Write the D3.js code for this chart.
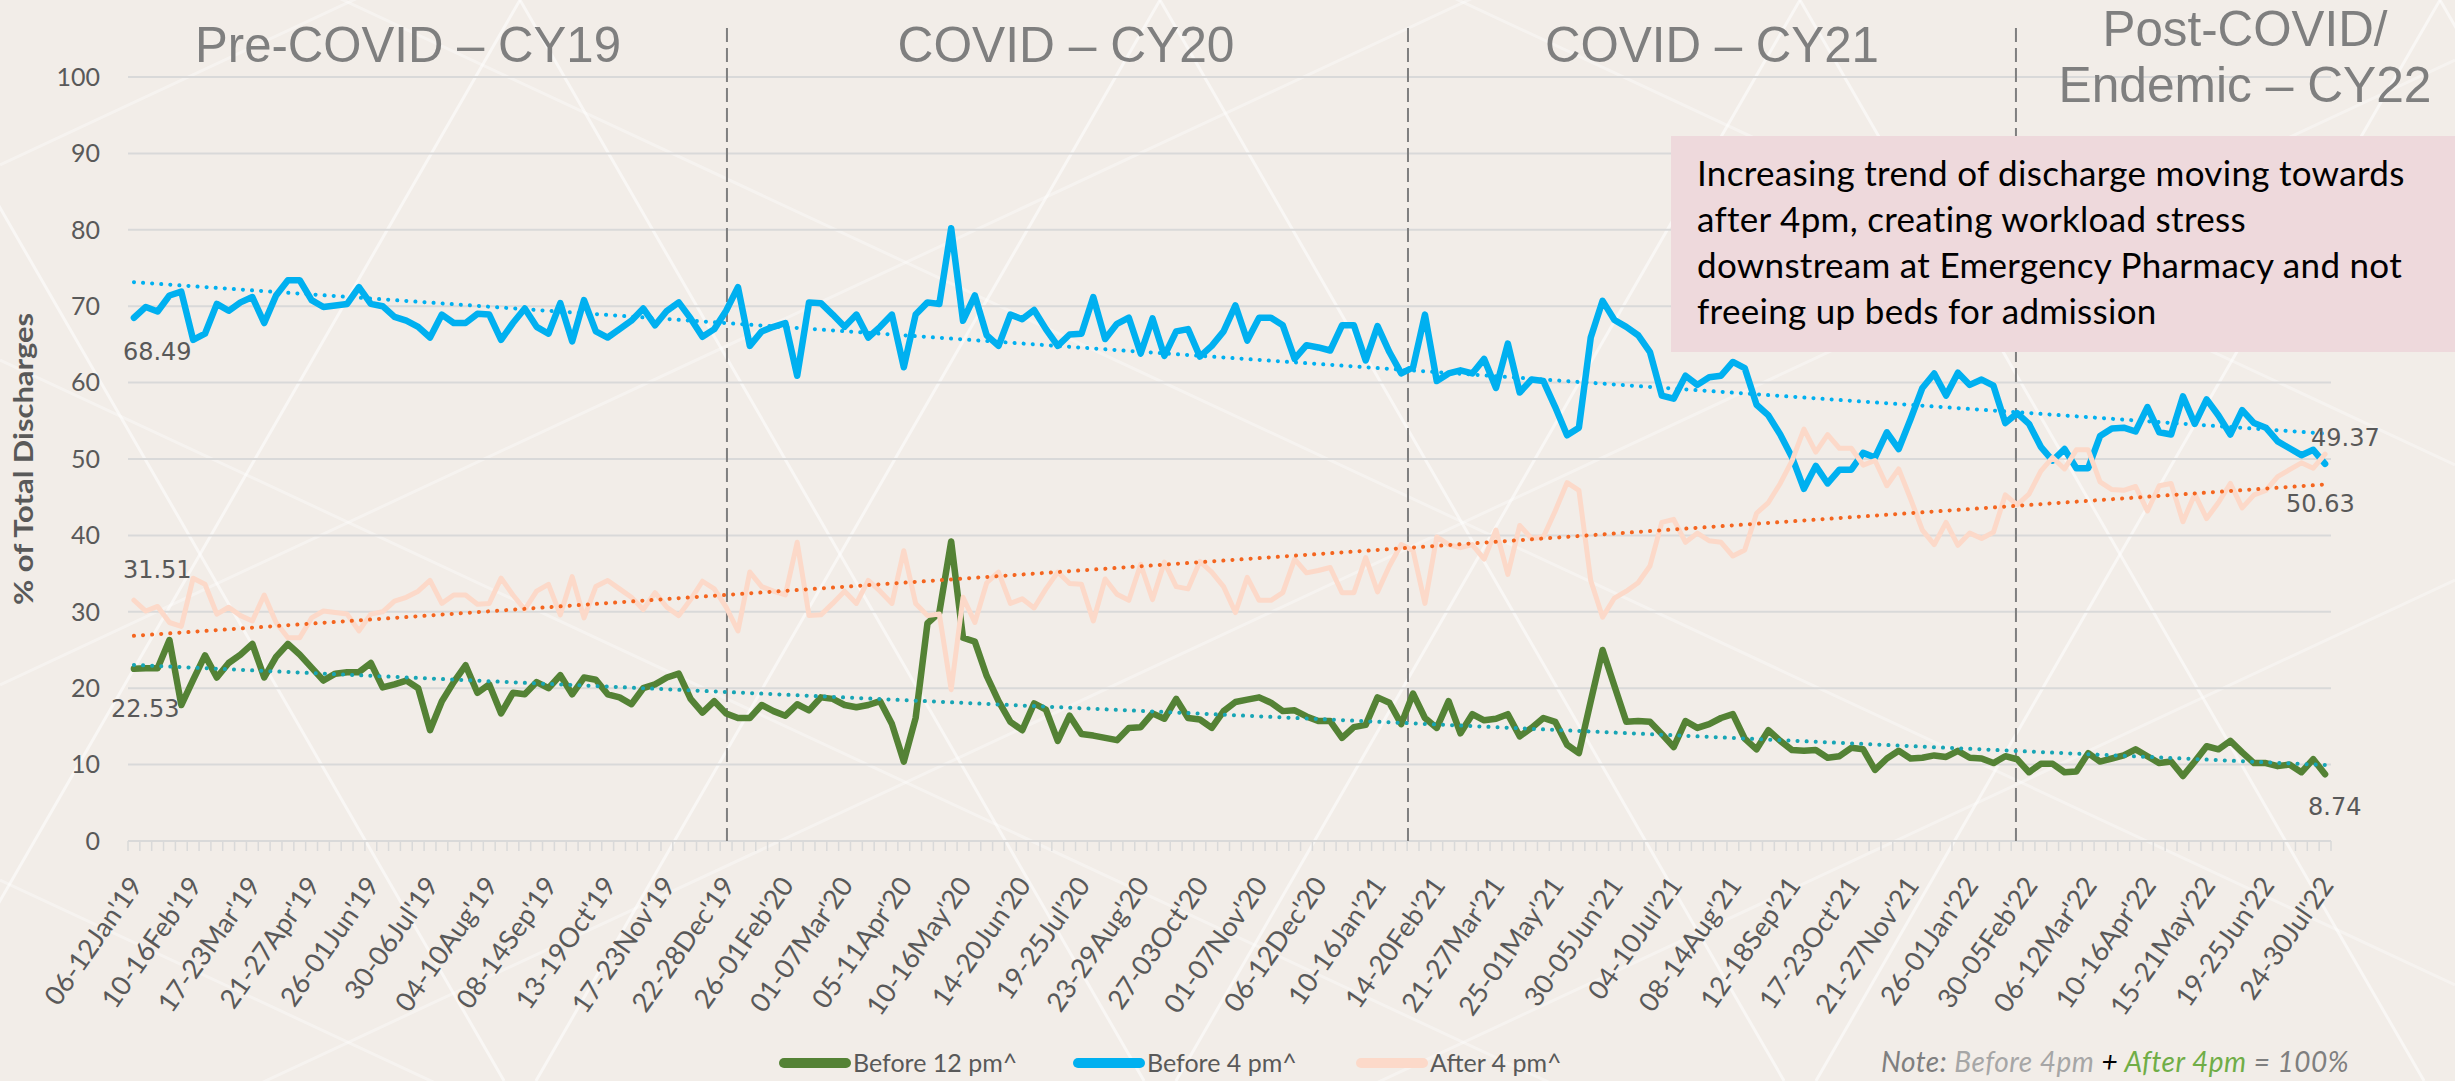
<!DOCTYPE html>
<html>
<head>
<meta charset="utf-8">
<script src="https://cdn.jsdelivr.net/npm/d3@7"></script>
<style>
  html, body { margin: 0; padding: 0; background: #f2ede8; }
  svg { display: block; }
</style>
</head>
<body>
<svg id="chart"></svg>
<script>
// weekly share of discharges (%), 06-12Jan'19 .. 24-30Jul'22
const before12 = [22.53,22.6,22.6,26.3,17.8,21.1,24.3,21.4,23.3,24.4,25.8,21.4,24.1,25.8,24.4,22.7,21.0,21.9,22.1,22.1,
  23.3,20.1,20.5,21.0,20.0,14.5,18.3,20.8,23.0,19.4,20.5,16.7,19.4,19.2,20.8,20.0,21.7,19.2,21.4,21.1,
  19.2,18.8,17.9,20.0,20.5,21.4,21.9,18.6,16.8,18.3,16.7,16.1,16.1,17.8,17.0,16.4,17.9,17.1,18.8,18.6,
  17.8,17.5,17.8,18.3,15.3,10.4,16.1,28.5,29.9,39.2,26.6,26.1,21.6,18.3,15.6,14.5,18.0,17.2,13.1,16.4,
  14.0,13.8,13.5,13.2,14.8,14.9,16.7,16.0,18.6,16.1,15.9,14.8,17.0,18.2,18.5,18.8,18.1,17.0,17.1,16.3,
  15.7,15.7,13.5,14.9,15.2,18.8,18.1,15.3,19.3,16.1,14.8,18.3,14.1,16.6,15.8,16.0,16.6,13.7,14.8,16.1,
  15.6,12.6,11.5,18.3,25.0,20.3,15.6,15.7,15.6,14.0,12.3,15.7,14.8,15.3,16.1,16.6,13.4,12.0,14.5,13.1,
  11.9,11.8,11.9,10.9,11.1,12.2,12.0,9.3,10.8,11.8,10.8,10.9,11.2,11.0,11.8,10.9,10.8,10.2,11.1,10.7,
  9.0,10.1,10.1,9.0,9.1,11.5,10.4,10.8,11.2,12.0,11.1,10.2,10.4,8.5,10.4,12.4,12.0,13.1,11.6,10.2,
  10.2,9.8,10.0,9.0,10.7,8.74];

const before4 = [68.49,69.9,69.3,71.4,71.9,65.6,66.4,70.3,69.4,70.5,71.2,67.8,71.4,73.4,73.4,70.8,69.9,70.1,70.3,72.5,
  70.3,70.0,68.6,68.1,67.3,65.9,68.9,67.8,67.8,69.0,68.9,65.6,67.8,69.7,67.3,66.4,70.4,65.4,70.8,66.7,
  65.9,67.0,68.1,69.7,67.5,69.4,70.5,68.4,66.0,67.0,69.4,72.5,64.8,66.7,67.3,67.8,60.9,70.5,70.4,68.9,
  67.3,68.9,65.9,67.3,68.9,62.0,68.9,70.5,70.3,80.2,68.1,71.4,66.2,64.8,68.9,68.3,69.5,67.0,64.8,66.3,
  66.4,71.2,65.7,67.7,68.5,63.8,68.4,63.5,66.7,67.0,63.4,64.8,66.7,70.1,65.5,68.5,68.5,67.5,63.1,64.9,
  64.6,64.2,67.5,67.5,62.9,67.4,64.0,61.2,62.0,68.9,60.2,61.2,61.6,61.2,63.1,59.3,65.1,58.7,60.4,60.2,
  56.8,53.1,54.1,65.9,70.7,68.2,67.3,66.2,64.0,58.3,57.9,60.9,59.7,60.7,60.9,62.7,61.9,57.1,55.7,53.2,
  50.2,46.1,49.1,46.8,48.6,48.6,50.8,50.2,53.5,51.3,55.2,59.3,61.2,58.3,61.3,59.7,60.4,59.6,54.7,56.0,
  54.6,51.6,49.8,51.3,48.8,48.8,53.0,54.0,54.1,53.6,56.8,53.5,53.2,58.2,54.6,57.8,55.7,53.2,56.4,54.7,
  54.1,52.3,51.4,50.5,51.2,49.37];

const after4 = [31.51,30.1,30.7,28.6,28.1,34.4,33.6,29.7,30.6,29.5,28.8,32.2,28.6,26.6,26.6,29.2,30.1,29.9,29.7,27.5,
  29.7,30.0,31.4,31.9,32.7,34.1,31.1,32.2,32.2,31.0,31.1,34.4,32.2,30.3,32.7,33.6,29.6,34.6,29.2,33.3,
  34.1,33.0,31.9,30.3,32.5,30.6,29.5,31.6,34.0,33.0,30.6,27.5,35.2,33.3,32.7,32.2,39.1,29.5,29.6,31.1,
  32.7,31.1,34.1,32.7,31.1,38.0,31.1,29.5,29.7,19.8,31.9,28.6,33.8,35.2,31.1,31.7,30.5,33.0,35.2,33.7,
  33.6,28.8,34.3,32.3,31.5,36.2,31.6,36.5,33.3,33.0,36.6,35.2,33.3,29.9,34.5,31.5,31.5,32.5,36.9,35.1,
  35.4,35.8,32.5,32.5,37.1,32.6,36.0,38.8,38.0,31.1,39.8,38.8,38.4,38.8,36.9,40.7,34.9,41.3,39.6,39.8,
  43.2,46.9,45.9,34.1,29.3,31.8,32.7,33.8,36.0,41.7,42.1,39.1,40.3,39.3,39.1,37.3,38.1,42.9,44.3,46.8,
  49.8,53.9,50.9,53.2,51.4,51.4,49.2,49.8,46.5,48.7,44.8,40.7,38.8,41.7,38.7,40.3,39.6,40.4,45.3,44.0,
  45.4,48.4,50.2,48.7,51.2,51.2,47.0,46.0,45.9,46.4,43.2,46.5,46.8,41.8,45.4,42.2,44.3,46.8,43.6,45.3,
  45.9,47.7,48.6,49.5,48.8,50.63];

// one label every 5 weeks
const tickLabels = ["06-12Jan'19","10-16Feb'19","17-23Mar'19","21-27Apr'19","26-01Jun'19","30-06Jul'19",
  "04-10Aug'19","08-14Sep'19","13-19Oct'19","17-23Nov'19","22-28Dec'19","26-01Feb'20","01-07Mar'20",
  "05-11Apr'20","10-16May'20","14-20Jun'20","19-25Jul'20","23-29Aug'20","27-03Oct'20","01-07Nov'20",
  "06-12Dec'20","10-16Jan'21","14-20Feb'21","21-27Mar'21","25-01May'21","30-05Jun'21","04-10Jul'21",
  "08-14Aug'21","12-18Sep'21","17-23Oct'21","21-27Nov'21","26-01Jan'22","30-05Feb'22","06-12Mar'22",
  "10-16Apr'22","15-21May'22","19-25Jun'22","24-30Jul'22"];

const periodNames = [["Pre-COVID \u2013 CY19"], ["COVID \u2013 CY20"], ["COVID \u2013 CY21"], ["Post-COVID/", "Endemic \u2013 CY22"]];
const seriesNames = ["Before 12 pm^", "Before 4 pm^", "After 4 pm^"];
const noteText = "Increasing trend of discharge moving towards|after 4pm, creating workload stress|downstream at Emergency Pharmacy and not|freeing up beds for admission".split("|");

const W = 2455, H = 1081;
const plot = {left: 128, right: 2331, top: 77, bottom: 841};
const calibri = "Lato, 'Open Sans', sans-serif";
const grey = "#595959";
const colors = {g: "#548235", b: "#00b0f0", p: "#fcd9c9", gt: "#17a5b5", bt: "#00b0f0", pt: "#f4651f"};

const svg = d3.select("#chart").attr("width", W).attr("height", H);

svg.append("rect").attr("width", W).attr("height", H).attr("fill", "#f2ede8");

// faint geometric backdrop
const deco = svg.append("g").attr("stroke", "#ffffff").attr("stroke-opacity", 0.55).attr("stroke-width", 3).attr("fill", "none");
const slope60 = Math.tan(Math.PI / 3), slope25 = Math.tan(25 * Math.PI / 180);
for (let x0 = -1400; x0 < W + 1400; x0 += 640) {
  deco.append("line").attr("x1", x0).attr("y1", 0).attr("x2", x0 + H / slope60).attr("y2", H);
  deco.append("line").attr("x1", x0).attr("y1", 0).attr("x2", x0 - H / slope60).attr("y2", H);
}
for (let y0 = -1200; y0 < H + 1200; y0 += 520) {
  deco.append("line").attr("x1", 0).attr("y1", y0).attr("x2", W).attr("y2", y0 + W * slope25).attr("stroke-opacity", 0.35);
  deco.append("line").attr("x1", 0).attr("y1", y0 + W * slope25 - 300).attr("x2", W).attr("y2", y0 - 300).attr("stroke-opacity", 0.35);
}

const weeks = d3.range(before4.length);
const x = d3.scaleBand().domain(weeks).range([plot.left, plot.right]);
const cx = i => x(i) + x.bandwidth() / 2;
const y = d3.scaleLinear().domain([0, 100]).range([plot.bottom, plot.top]);

// grid
svg.append("g").selectAll("line").data(y.ticks(10)).join("line")
  .attr("x1", plot.left).attr("x2", plot.right)
  .attr("y1", d => y(d)).attr("y2", d => y(d))
  .attr("stroke", "#d9d9d9").attr("stroke-width", 2);

// minor category ticks
svg.append("g").selectAll("line").data(d3.range(weeks.length + 1)).join("line")
  .attr("x1", d => plot.left + d * x.step()).attr("x2", d => plot.left + d * x.step())
  .attr("y1", plot.bottom).attr("y2", plot.bottom + 10)
  .attr("stroke", "#d9d9d9").attr("stroke-width", 1.5);

svg.append("g").selectAll("text").data(y.ticks(10)).join("text")
  .attr("x", 100).attr("y", d => y(d)).attr("dy", "0.35em")
  .attr("text-anchor", "end")
  .style("font-family", calibri).style("font-size", "25px").attr("fill", grey)
  .text(d => d);

svg.append("text")
  .attr("transform", "translate(33,459) rotate(-90)")
  .attr("text-anchor", "middle")
  .style("font-family", calibri).style("font-size", "26px").style("font-weight", "bold")
  .attr("fill", grey)
  .attr("textLength", 292).attr("lengthAdjust", "spacingAndGlyphs")
  .text("% of Total Discharges");

svg.append("g").selectAll("text").data(tickLabels).join("text")
  .attr("transform", (d, i) => `translate(${cx(i * 5) + 2},880) rotate(-55)`)
  .attr("text-anchor", "end").attr("dy", "0.35em")
  .style("font-family", calibri).style("font-size", "27px").attr("fill", grey)
  .text(d => d);

// period separators (placed by hand on the slide)
const dividerWeeks = [50.57, 108.07, 159.4];
svg.append("g").selectAll("line").data(dividerWeeks).join("line")
  .attr("x1", d => plot.left + d * x.step()).attr("x2", d => plot.left + d * x.step())
  .attr("y1", 28).attr("y2", plot.bottom)
  .attr("stroke", "#7f7f7f").attr("stroke-width", 2).attr("stroke-dasharray", "14 6");

// series
const line = d3.line().x((d, i) => cx(i)).y(d => y(d));
const series = [
  {vals: before12, color: colors.g, width: 6.5, trend: colors.gt},
  {vals: before4, color: colors.b, width: 6.5, trend: colors.bt},
  {vals: after4, color: colors.p, width: 5, trend: colors.pt}
];
svg.append("g").selectAll("path").data(series).join("path")
  .attr("d", d => line(d.vals))
  .attr("fill", "none").attr("stroke", d => d.color).attr("stroke-width", d => d.width)
  .attr("stroke-linejoin", "round").attr("stroke-linecap", "round");

// linear trendlines (least squares)
function linReg(vals) {
  const n = vals.length, mx = (n - 1) / 2, my = d3.mean(vals);
  let num = 0, den = 0;
  vals.forEach((v, i) => { num += (i - mx) * (v - my); den += (i - mx) * (i - mx); });
  const b = num / den, a = my - b * mx;
  return [[0, a], [n - 1, a + b * (n - 1)]];
}
svg.append("g").selectAll("path").data(series).join("path")
  .attr("d", d => d3.line().x(p => cx(p[0])).y(p => y(p[1]))(linReg(d.vals)))
  .attr("fill", "none").attr("stroke", d => d.trend).attr("stroke-width", 4)
  .attr("stroke-linecap", "round").attr("stroke-dasharray", "0.1 9");

// first / last value labels
const last = weeks.length - 1;
const valueLabels = [
  {i: 0, v: before4[0], dx: -11, dy: 42},
  {i: 0, v: after4[0], dx: -11, dy: -22},
  {i: 0, v: before12[0], dx: -23, dy: 48},
  {i: last, v: before4[last], dx: -14, dy: -18},
  {i: last, v: after4[last], dx: -39, dy: 58},
  {i: last, v: before12[last], dx: -17, dy: 41}
];
svg.append("g").selectAll("text").data(valueLabels).join("text")
  .attr("x", d => cx(d.i) + d.dx).attr("y", d => y(d.v) + d.dy)
  .style("font-family", "'DejaVu Sans', sans-serif").style("font-size", "24px").attr("fill", grey)
  .text(d => d3.format(".2f")(d.v));

// period titles
const periodCenters = [408, 1066, 1712, 2245];
const periodBase = [[62], [62], [62], [46, 102]];
const periodWidths = [[426], [337], [334], [285, 373]];
periodNames.forEach((lines, k) => {
  lines.forEach((t, j) => {
    svg.append("text")
      .attr("x", periodCenters[k]).attr("y", periodBase[k][j])
      .attr("text-anchor", "middle")
      .style("font-family", "'Liberation Sans', Arial, sans-serif").style("font-size", "50px")
      .attr("textLength", periodWidths[k][j]).attr("lengthAdjust", "spacingAndGlyphs")
      .attr("fill", "#7f7f7f")
      .text(t);
  });
});

// callout box
svg.append("rect").attr("x", 1671).attr("y", 136).attr("width", W - 1671).attr("height", 216)
  .attr("fill", "#eed9dc");
svg.append("g").selectAll("text").data(noteText).join("text")
  .attr("x", 1697).attr("y", (d, i) => 186 + i * 46)
  .style("font-family", calibri).style("font-size", "35px").style("letter-spacing", "0.3px")
  .attr("fill", "#000")
  .text(d => d);

// legend
const legendX = [780, 1074, 1357];
const leg = svg.append("g").selectAll("g").data(series).join("g")
  .attr("transform", (d, i) => `translate(${legendX[i]},1063)`);
leg.append("line").attr("x1", 4).attr("x2", 66)
  .attr("stroke", d => d.color).attr("stroke-width", 10).attr("stroke-linecap", "round");
leg.append("text").attr("x", 73).attr("y", 0).attr("dy", "0.35em")
  .style("font-family", calibri).style("font-size", "25px").attr("fill", grey)
  .text((d, i) => seriesNames[i]);

const note = svg.append("text").attr("x", 2349).attr("y", 1072).attr("text-anchor", "end")
  .style("font-family", calibri).style("font-size", "28px").style("font-style", "italic")
  .style("letter-spacing", "0.5px");
note.append("tspan").attr("fill", "#7f7f7f").text("Note: ");
note.append("tspan").attr("fill", "#a6a6a6").text("Before 4pm ");
note.append("tspan").attr("fill", "#000").text("+ ");
note.append("tspan").attr("fill", "#70ad47").text("After 4pm ");
note.append("tspan").attr("fill", "#7f7f7f").text("= 100%");
</script>
</body>
</html>
